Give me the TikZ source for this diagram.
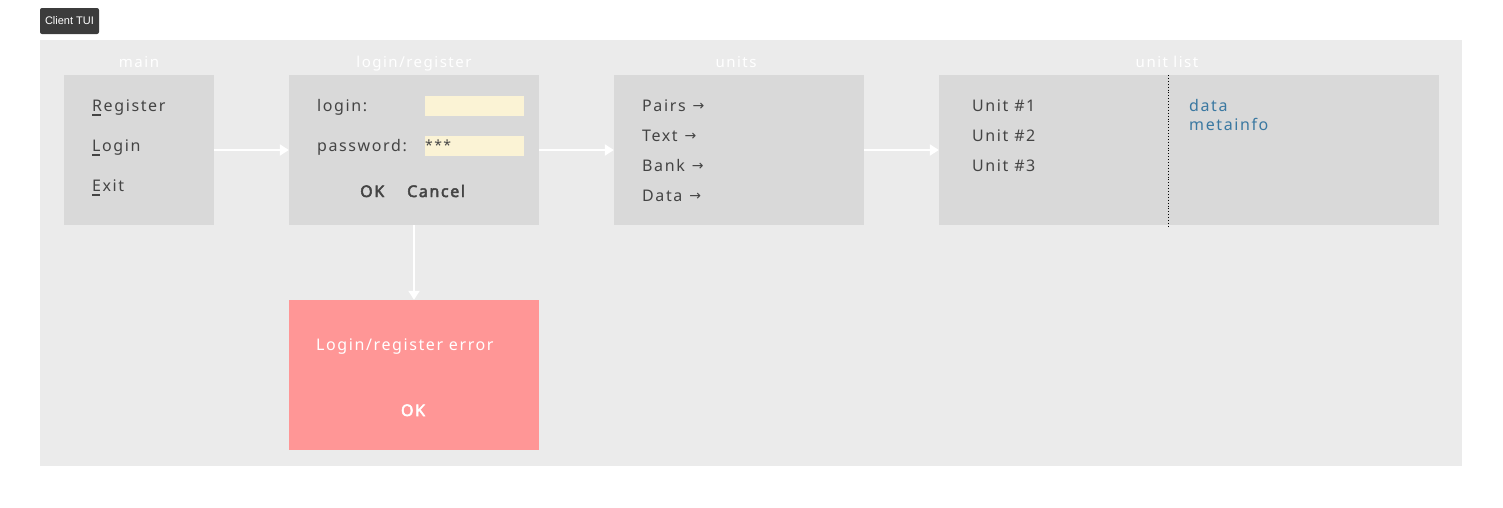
\documentclass[tikz,border=0pt]{standalone}
\usepackage{fontspec}
\newfontfamily\uif{Noto Sans}[LetterSpace=10]
\newfontfamily\uibf{Noto Sans}[LetterSpace=10,FakeBold=3]
\newfontfamily\tagf{Liberation Sans}
\newfontfamily\arrf{DejaVu Sans}
\usetikzlibrary{arrows.meta}
\definecolor{panel}{HTML}{EBEBEB}
\definecolor{boxc}{HTML}{D9D9D9}
\definecolor{txt}{HTML}{444444}
\definecolor{field}{HTML}{FBF3D5}
\definecolor{errc}{HTML}{FF9696}
\definecolor{tagc}{HTML}{3C3C3C}
\definecolor{blu}{HTML}{3A78A1}
\newcommand\ulc[1]{\setbox0\hbox{#1}\rlap{\rule[-4.5pt]{0.9\wd0}{1.1pt}}#1}
\newcommand\rar{\hspace{7pt}{\arrf\fontsize{14}{17}\selectfont\raisebox{0.3pt}{→}}}
\begin{document}
\begin{tikzpicture}[x=1pt,y=-1pt,
  screen/.style={fill=boxc,draw=none,inner sep=0pt,minimum height=150pt},
  fieldbox/.style={fill=field,draw=none,inner sep=0pt,minimum width=99pt,minimum height=20pt},
  item/.style={font=\uif\fontsize{16}{19}\selectfont,text=txt,inner sep=0pt,anchor=base west},
  btn/.style={font=\uibf\fontsize{16}{19}\selectfont,text=txt,inner sep=0pt,anchor=base west},
  lbl/.style={font=\uif\fontsize{15}{18}\selectfont,text=white,inner sep=0pt,anchor=base},
  info/.style={font=\uif\fontsize{16}{19}\selectfont,text=blu,inner sep=0pt,anchor=base west},
  flow/.style={draw=white,line width=2pt,-{Triangle[length=9pt,width=11pt]}}]
\useasboundingbox (0,0) rectangle (1503,507);
% panel
\fill[panel] (40,40) rectangle (1462,466);
% tag
\node[fill=tagc,rounded corners=2pt,inner sep=0pt,minimum width=59pt,minimum height=26pt,
  text=white,font=\tagf\fontsize{11}{13}\selectfont] (tag) at (69.5,21) {Client TUI};
% screens
\node[screen,minimum width=150pt] (mainbox) at (139,150) {};
\node[screen,minimum width=250pt] (loginbox) at (414,150) {};
\node[screen,minimum width=250pt] (unitsbox) at (739,150) {};
\node[screen,minimum width=500pt] (listbox) at (1189,150) {};
\node[screen,minimum width=250pt,fill=errc] (errbox) at (414,375) {};
% labels
\node[lbl] (lmain) at (139,67) {main};
\node[lbl] (llogin) at (414,67) {login/register};
\node[lbl] (lunits) at (736,67) {units};
\node[lbl] (llist) at (1167,67) {unit list};
% main items
\node[item] (reg) at (92,111) {\ulc{R}egister};
\node[item] (log) at (92,151) {\ulc{L}ogin};
\node[item] (ext) at (92,191) {\ulc{E}xit};
% login items
\node[item] (tlogin) at (317,111) {login:};
\node[item] (tpass) at (317,151) {password:};
\node[fieldbox] (f1) at (474.5,106) {};
\node[fieldbox] (f2) at (474.5,146) {};
\node[item,font=\uif\fontsize{14}{16}\selectfont] (stars) at (425,150) {***};
\node[btn] (ok) at (360,197) {OK};
\node[btn] (cancel) at (407,197) {Cancel};
% units items
\node[item] (pairs) at (642,111) {Pairs\rar};
\node[item] (text) at (642,141) {Text\rar};
\node[item] (bank) at (642,171) {Bank\rar};
\node[item] (data) at (642,201) {Data\rar};
% unit list
\node[item] (u1) at (972,111) {Unit \#1};
\node[item] (u2) at (972,141) {Unit \#2};
\node[item] (u3) at (972,171) {Unit \#3};
\coordinate (dtop) at (1168,75);
\coordinate (dbot) at (1168,226);
\draw[dotted,line width=0.9pt,black] (dtop) -- (dbot);
\node[info] (idata) at (1189,111) {data};
\node[info] (imeta) at (1189,130) {metainfo};
% error
\node[item,text=white] (etext) at (316,350) {Login/register error};
\node[btn,text=white,anchor=base] (eok) at (413,416) {OK};
% arrows
\draw[flow] (mainbox.east) -- (loginbox.west);
\draw[flow] (loginbox.east) -- (unitsbox.west);
\draw[flow] (unitsbox.east) -- (listbox.west);
\draw[flow] (loginbox.south) -- (errbox.north);
\end{tikzpicture}
\end{document}
